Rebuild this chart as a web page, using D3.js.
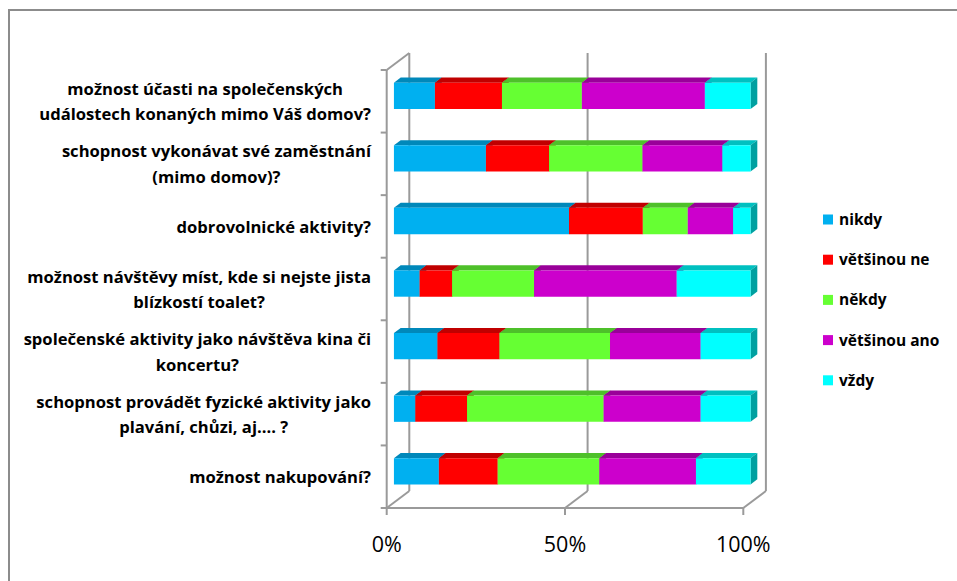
<!DOCTYPE html>
<html>
<head>
<meta charset="utf-8">
<script src="https://cdn.jsdelivr.net/npm/d3@7"></script>
<style>
  body { margin: 0; background: #fff; }
  text { font-family: "Open Sans", Lato, sans-serif; }
</style>
</head>
<body>
<svg id="chart" width="957" height="581"></svg>
<script>
// otázky (shora dolů), zalomené jako v originále
var categories = [
  ["možnost účasti na společenských", "událostech konaných mimo Váš domov?"],
  ["schopnost vykonávat své zaměstnání", "(mimo domov)?"],
  ["dobrovolnické aktivity?"],
  ["možnost návštěvy míst, kde si nejste jista", "blízkostí toalet?"],
  ["společenské aktivity jako návštěva kina či", "koncertu?"],
  ["schopnost provádět fyzické aktivity jako", "plavání, chůzi, aj.... ?"],
  ["možnost nakupování?"]
];
var seriesNames = ["nikdy", "většinou ne", "někdy", "většinou ano", "vždy"];
// procenta po řadách (stejné pořadí jako categories)
var nikdy      = [11.5, 25.8, 49.1,  7.2, 12.2,  6.0, 12.6];
var vetsinouNe = [18.8, 17.7, 20.7,  9.1, 17.4, 14.5, 16.5];
var nekdy      = [22.4, 26.2, 12.6, 23.0, 31.0, 38.3, 28.5];
var vetsinouAno= [34.5, 22.4, 12.7, 40.0, 25.4, 27.2, 27.1];
var vzdy       = [12.8,  7.9,  4.9, 20.7, 14.0, 14.0, 15.3];
var tickValues = [0, 50, 100];

var frontColor = ["#00B0F0", "#FF0000", "#66FF33", "#CC00CC", "#00FFFF"];
var topColor   = ["#0088BA", "#C00000", "#4EC02A", "#990099", "#00C0C0"];
var sideColor  = ["#00759F", "#A00000", "#3FA020", "#800080", "#00A0A0"];

var svg = d3.select("#chart");
var gridColor = "#9a9a9a";

// hloubka 3D (posun zadní stěny)
var DX = 22.6, DY = -17;
var zFront = 0.32, zBack = 0.62;

var x = d3.scaleLinear().domain([0, 100]).range([386.7, 743.3]);
var y = d3.scaleBand().domain(d3.range(categories.length)).range([70, 508])
  .paddingInner(0.58).paddingOuter(0.29);

// rámeček
svg.append("path").attr("d", "M9,581 L9,10 L957,10")
  .attr("fill", "none").attr("stroke", "#8c8c8c").attr("stroke-width", 2);

var grid = svg.append("g").attr("stroke", gridColor).attr("stroke-width", 2).attr("fill", "none");
var yTop = y.range()[0], yBot = y.range()[1];
// zadní stěna - svislé mřížky
tickValues.forEach(function(t) {
  grid.append("line")
    .attr("x1", x(t) + DX).attr("x2", x(t) + DX)
    .attr("y1", yTop + DY).attr("y2", yBot + DY);
  // podlaha - diagonály
  grid.append("line")
    .attr("x1", x(t)).attr("y1", yBot)
    .attr("x2", x(t) + DX).attr("y2", yBot + DY);
});
// přední osa y + horní diagonála
grid.append("line").attr("x1", x(0)).attr("x2", x(0)).attr("y1", yTop).attr("y2", yBot);
grid.append("line").attr("x1", x(0)).attr("y1", yTop).attr("x2", x(0) + DX).attr("y2", yTop + DY);
// přední osa x
grid.append("line").attr("x1", x(0)).attr("x2", x(100)).attr("y1", yBot).attr("y2", yBot);

// značky na ose y
var step = y.step();
d3.range(categories.length + 1).forEach(function(i) {
  var yy = yTop + i * step;
  grid.append("line").attr("x1", x(0) - 6).attr("x2", x(0)).attr("y1", yy).attr("y2", yy);
});
// značky na ose x
tickValues.forEach(function(t) {
  grid.append("line").attr("x1", x(t)).attr("x2", x(t)).attr("y1", yBot).attr("y2", yBot + 7);
});

// popisky osy x
svg.append("g").selectAll("text").data(tickValues).join("text")
  .attr("x", function(d) { return x(d); })
  .attr("y", 552)
  .attr("text-anchor", "middle")
  .attr("font-size", 21.5)
  .attr("fill", "#000")
  .text(function(d) { return d + "%"; });

// sloupce
var series = [nikdy, vetsinouNe, nekdy, vetsinouAno, vzdy];
var bars = svg.append("g");
function pt(v, yy, z) { return [x(v) + z * DX, yy + z * DY]; }
categories.forEach(function(c, i) {
  var cum = 0;
  var y0 = y(i), y1 = y(i) + y.bandwidth();
  series.forEach(function(s, k) {
    var a = cum, b = cum + s[i];
    cum = b;
    var topFace = [pt(a, y0, zFront), pt(b, y0, zFront), pt(b, y0, zBack), pt(a, y0, zBack)];
    var sideFace = [pt(b, y0, zFront), pt(b, y0, zBack), pt(b, y1, zBack), pt(b, y1, zFront)];
    var frontFace = [pt(a, y0, zFront), pt(b, y0, zFront), pt(b, y1, zFront), pt(a, y1, zFront)];
    bars.append("polygon").attr("points", topFace.join(" ")).attr("fill", topColor[k]);
    bars.append("polygon").attr("points", sideFace.join(" ")).attr("fill", sideColor[k]);
    bars.append("polygon").attr("points", frontFace.join(" ")).attr("fill", frontColor[k]);
  });
});

// popisky kategorií
var labelRight = 371, lineH = 25.5;
var labels = svg.append("g");
categories.forEach(function(lines, i) {
  var cy = y(i) + y.bandwidth() / 2 + 0.5;
  var g = labels.append("g");
  var texts = lines.map(function(l, j) {
    return g.append("text")
      .attr("font-size", 16.6).attr("font-weight", "bold").attr("fill", "#000")
      .attr("text-anchor", "middle")
      .attr("y", cy + (j - (lines.length - 1) / 2) * lineH)
      .attr("dy", "0.35em")
      .text(l);
  });
  var w = d3.max(texts, function(t) { return t.node().getComputedTextLength(); });
  texts.forEach(function(t) { t.attr("x", labelRight - w / 2); });
});

// legenda
var legend = svg.append("g");
seriesNames.forEach(function(n, k) {
  var ly = 219.5 + k * 40.2;
  legend.append("rect").attr("x", 823).attr("y", ly - 5).attr("width", 10).attr("height", 10)
    .attr("fill", frontColor[k]);
  legend.append("text").attr("x", 839).attr("y", ly).attr("dy", "0.35em")
    .attr("font-size", 15.5).attr("font-weight", "bold").attr("fill", "#000").text(n);
});
</script>
</body>
</html>
